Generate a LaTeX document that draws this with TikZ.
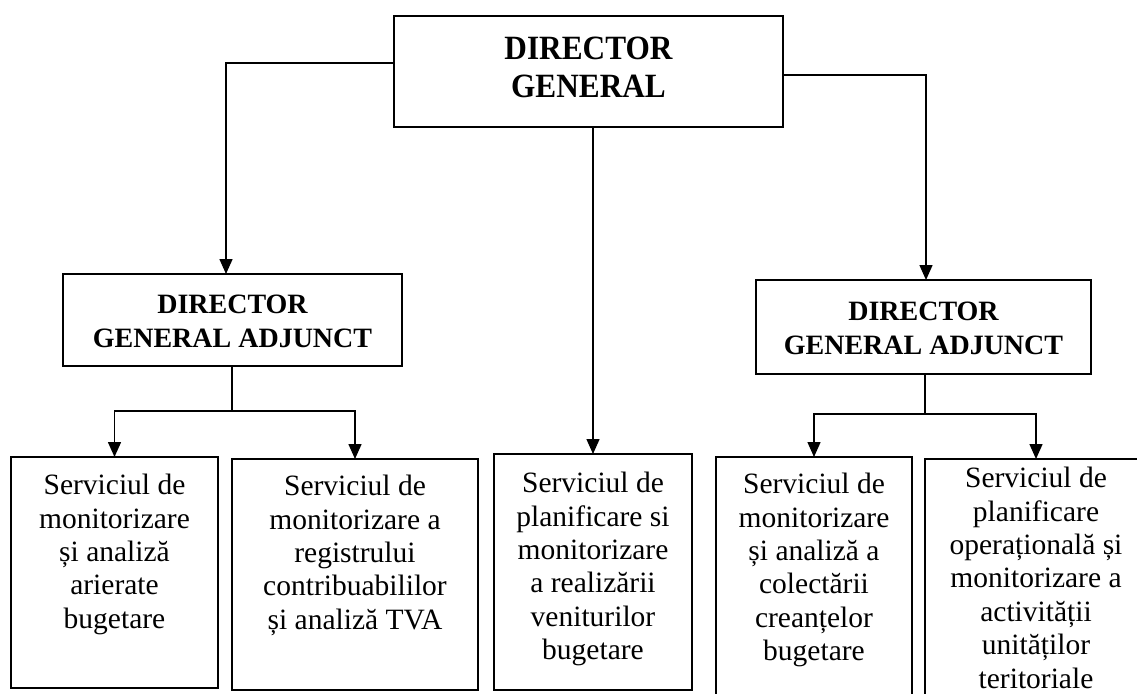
\documentclass[tikz,border=0pt]{standalone}
\usepackage{fontspec}
\setmainfont{Liberation Serif}
\usetikzlibrary{arrows.meta}
\begin{document}
\begin{tikzpicture}[x=1pt,y=-1pt,
  box/.style={draw, line width=1.6pt, inner sep=0pt, outer sep=0pt},
  ln/.style={line width=1.5pt},
  arr/.style={line width=1.5pt, -{Triangle[width=13pt,length=15pt]}},
  head/.style={font=\fontsize{34}{38}\selectfont\bfseries, align=center, anchor=north, inner sep=0pt},
  sub/.style={font=\fontsize{28}{34}\selectfont\bfseries, align=center},
  svc/.style={font=\fontsize{29.5}{33.4}\selectfont, align=center, anchor=north, inner sep=0pt}
]
\useasboundingbox (0,0) rectangle (1137,693);

% top level
\node[box, minimum width=389pt, minimum height=111pt] (dg) at (588.5,71.5) {};
\begin{scope}[shift={(588.5,37)}, xscale=0.92]
  \node[head, transform shape] (dgt) at (0,0) {DIRECTOR\\GENERAL};
\end{scope}

% deputies
\node[box, minimum width=339pt, minimum height=92pt] (dgaL) at (232.5,320) {};
\node[sub] (dgaLt) at (232.5,321) {DIRECTOR\\GENERAL ADJUNCT};
\node[box, minimum width=335pt, minimum height=94pt] (dgaR) at (923.5,327) {};
\node[sub] (dgaRt) at (923.5,328) {DIRECTOR\\GENERAL ADJUNCT};

% services
\node[box, minimum width=207pt, minimum height=231pt] (s1) at (114.5,572.5) {};
\node[svc] (s1t) at (114.5,474) {Serviciul de\\monitorizare\\și analiză\\arierate\\bugetare};

\node[box, minimum width=246pt, minimum height=231pt] (s2) at (355,574.5) {};
\node[svc] (s2t) at (355,475) {Serviciul de\\monitorizare a\\registrului\\contribuabililor\\și analiză TVA};

\node[box, minimum width=198pt, minimum height=236pt] (mid) at (593,572) {};
\node[svc] (midt) at (593,472) {Serviciul de\\planificare si\\monitorizare\\a realizării\\veniturilor\\bugetare};

\node[box, minimum width=196pt, minimum height=243pt] (s4) at (814,578.5) {};
\node[svc] (s4t) at (814,473) {Serviciul de\\monitorizare\\și analiză a\\colectării\\creanțelor\\bugetare};

\node[box, minimum width=222pt, minimum height=241pt] (s5) at (1036,579.5) {};
\node[svc] (s5t) at (1036,467) {Serviciul de\\planificare\\operațională și\\monitorizare a\\activității\\unităților\\teritoriale};

% connectors from director general
\coordinate (jL) at (226,63);
\coordinate (jR) at (926,75);
\draw[arr] (jL -| dg.west) -- (jL) -- (jL |- dgaL.north);
\draw[arr] (jR -| dg.east) -- (jR) -- (jR |- dgaR.north);
\draw[arr] (dg.south -| mid.north) -- (mid.north);

% connectors from deputies
\coordinate (bL) at (232,411);
\coordinate (bR) at (925,414);
\draw[ln] (bL |- dgaL.south) -- (bL);
\draw[arr] (bL) -| (s1.north);
\draw[arr] (bL) -| (s2.north);
\draw[ln] (bR |- dgaR.south) -- (bR);
\draw[arr] (bR) -| (s4.north);
\draw[arr] (bR) -| (s5.north);
\end{tikzpicture}
\end{document}
